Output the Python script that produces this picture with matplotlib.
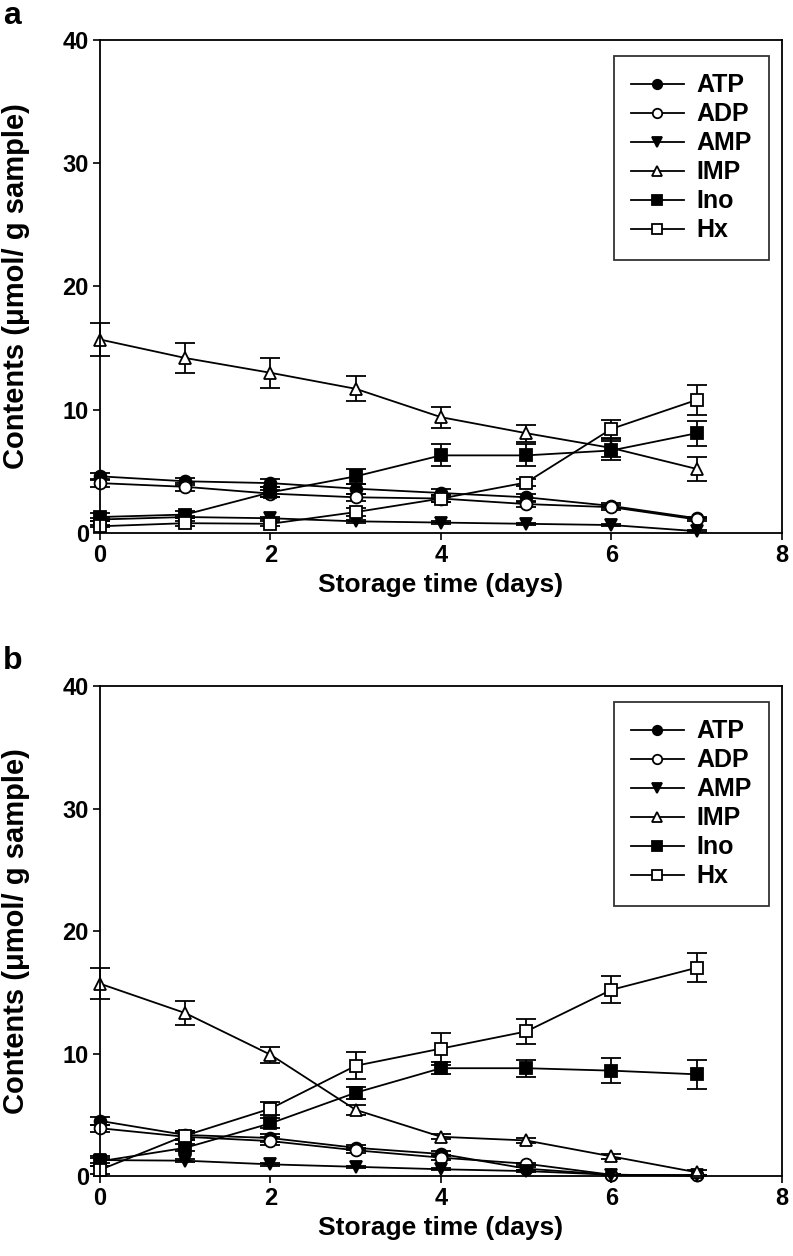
import matplotlib
matplotlib.use("Agg")
import matplotlib.pyplot as plt
import numpy as np

plt.rcParams.update({
    "font.family": ["Liberation Sans", "DejaVu Sans"],
    "font.weight": "bold",
    "axes.linewidth": 1.3,
})

NARROW = ["Liberation Sans Narrow", "Liberation Sans", "DejaVu Sans"]

days = [0, 1, 2, 3, 4, 5, 6, 7]
names = ["ATP", "ADP", "AMP", "IMP", "Ino", "Hx"]
markers = {"ATP": ("o", "black"), "ADP": ("o", "white"), "AMP": ("v", "black"),
           "IMP": ("^", "white"), "Ino": ("s", "black"), "Hx": ("s", "white")}

# panel a
atp_a = [4.6, 4.2, 4.05, 3.6, 3.25, 2.9, 2.2, 1.2]
adp_a = [4.05, 3.75, 3.2, 2.9, 2.8, 2.35, 2.1, 1.1]
amp_a = [1.1, 1.3, 1.2, 0.95, 0.85, 0.75, 0.65, 0.15]
imp_a = [15.7, 14.2, 13.0, 11.7, 9.4, 8.1, 6.9, 5.2]
ino_a = [1.3, 1.5, 3.3, 4.6, 6.3, 6.3, 6.7, 8.1]
hx_a = [0.55, 0.8, 0.75, 1.7, 2.8, 4.1, 8.45, 10.8]
atp_a_err = [0.3, 0.3, 0.3, 0.4, 0.3, 0.3, 0.2, 0.1]
adp_a_err = [0.3, 0.3, 0.3, 0.3, 0.3, 0.2, 0.2, 0.1]
amp_a_err = [0.1, 0.1, 0.1, 0.1, 0.1, 0.1, 0.1, 0.1]
imp_a_err = [1.3, 1.2, 1.2, 1.0, 0.85, 0.7, 0.7, 0.95]
ino_a_err = [0.3, 0.3, 0.4, 0.6, 0.9, 0.9, 0.8, 1.0]
hx_a_err = [0.1, 0.2, 0.2, 0.3, 0.3, 0.3, 0.7, 1.2]

# panel b
atp_b = [4.5, 3.35, 3.1, 2.3, 1.8, 0.6, 0.1, 0.05]
adp_b = [3.9, 3.2, 2.85, 2.1, 1.5, 1.0, 0.1, 0.05]
amp_b = [1.3, 1.25, 0.95, 0.75, 0.55, 0.4, 0.1, 0.05]
imp_b = [15.7, 13.3, 9.9, 5.4, 3.2, 2.9, 1.6, 0.3]
ino_b = [1.2, 2.3, 4.3, 6.8, 8.8, 8.8, 8.6, 8.3]
hx_b = [0.5, 3.3, 5.5, 9.0, 10.4, 11.8, 15.2, 17.0]
atp_b_err = [0.3, 0.3, 0.3, 0.2, 0.2, 0.1, 0.05, 0.05]
adp_b_err = [0.3, 0.3, 0.3, 0.2, 0.2, 0.1, 0.05, 0.05]
amp_b_err = [0.2, 0.1, 0.1, 0.1, 0.1, 0.1, 0.05, 0.05]
imp_b_err = [1.25, 1.0, 0.65, 0.4, 0.2, 0.2, 0.2, 0.2]
ino_b_err = [0.4, 0.3, 0.4, 0.5, 0.5, 0.7, 1.0, 1.2]
hx_b_err = [0.3, 0.4, 0.5, 1.1, 1.3, 1.0, 1.1, 1.2]

panels = [
    ("a", [atp_a, adp_a, amp_a, imp_a, ino_a, hx_a],
     [atp_a_err, adp_a_err, amp_a_err, imp_a_err, ino_a_err, hx_a_err]),
    ("b", [atp_b, adp_b, amp_b, imp_b, ino_b, hx_b],
     [atp_b_err, adp_b_err, amp_b_err, imp_b_err, ino_b_err, hx_b_err]),
]

fig = plt.figure(figsize=(7.93, 12.56), dpi=100)
rects = [[0.1261, 0.5756, 0.860, 0.3926], [0.1261, 0.0637, 0.860, 0.3901]]
tag_y = [0.981, 0.467]

for rect, ty, (tag, series, errs) in zip(rects, tag_y, panels):
    ax = fig.add_axes(rect)
    handles = []
    for name, vals, err in zip(names, series, errs):
        m, fc = markers[name]
        eb = ax.errorbar(days, vals, yerr=err, color="black", lw=1.3, marker=m,
                         markersize=9 if m != "o" else 8.5, markerfacecolor=fc,
                         markeredgecolor="black", markeredgewidth=1.3,
                         capsize=7, capthick=1.3, elinewidth=1.3, label=name)
        eb[0].set_clip_on(False)
        for c in eb[1]:
            c.set_clip_on(False)
        for c in eb[2]:
            c.set_clip_on(False)
        handles.append(eb[0])
    ax.set_xlim(0, 8)
    ax.set_ylim(0, 40)
    ax.set_xticks([0, 2, 4, 6, 8])
    ax.set_yticks([0, 10, 20, 30, 40])
    ax.tick_params(direction="out", length=5, width=1.2, pad=3)
    for lab in ax.get_xticklabels() + ax.get_yticklabels():
        lab.set_family(NARROW)
        lab.set_fontsize(17)
        lab.set_fontweight("bold")
    ax.set_xlabel("Storage time (days)", family=NARROW, fontsize=19,
                  fontweight="bold", labelpad=4)
    ax.set_ylabel("Contents (\u03bcmol/ g sample)", fontsize=21, fontweight="bold")
    ax.yaxis.set_label_coords(-0.103, 0.5)
    leg = ax.legend(handles, names, loc="upper right", bbox_to_anchor=(0.981, 0.9675),
                    fontsize=18, frameon=True, fancybox=False, edgecolor="black",
                    handlelength=2.1, labelspacing=0.2, borderpad=0.7,
                    borderaxespad=0, markerscale=0.8, handletextpad=0.5)
    leg.get_frame().set_linewidth(1.3)
    fig.text(0.004, ty, tag, fontsize=23, fontweight="bold", ha="left", va="baseline")

fig.savefig("out.png", dpi=100)
